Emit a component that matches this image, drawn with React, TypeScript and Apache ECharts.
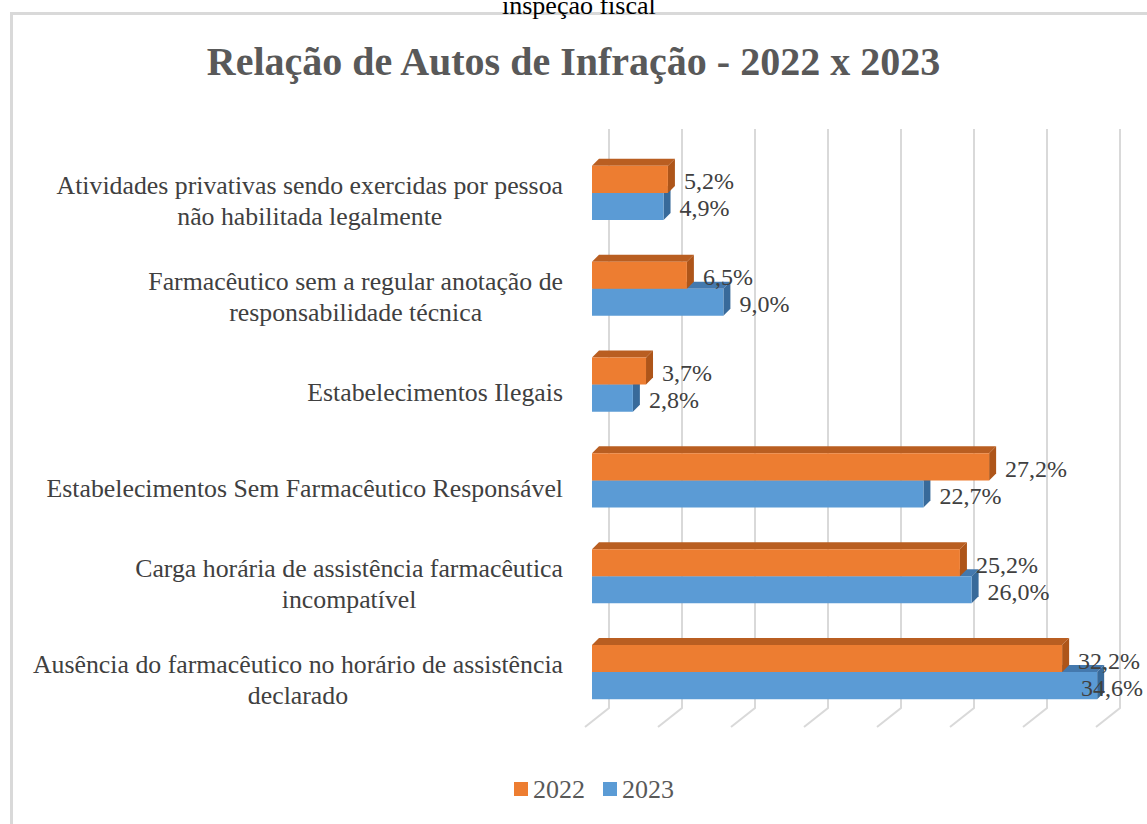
import React, { useEffect, useRef } from "react";
import * as echarts from "echarts";

const categories = [
  "Atividades privativas sendo exercidas por pessoa\nnão habilitada legalmente",
  "Farmacêutico sem a regular anotação de\nresponsabilidade técnica",
  "Estabelecimentos Ilegais",
  "Estabelecimentos Sem Farmacêutico Responsável",
  "Carga horária de assistência farmacêutica\nincompatível",
  "Ausência do farmacêutico no horário de assistência\ndeclarado",
];
const values2022 = [5.2, 6.5, 3.7, 27.2, 25.2, 32.2];
const values2023 = [4.9, 9.0, 2.8, 22.7, 26.0, 34.6];
const xTicks = [0, 5, 10, 15, 20, 25, 30, 35];

const SERIF = "Liberation Serif";

const COLORS = {
  "2022": { front: "#ED7D31", top: "#B95E21", side: "#AE5519" },
  "2023": { front: "#5B9BD5", top: "#4479AE", side: "#386A9A" },
};

const fmt = (v: number) => v.toFixed(1).replace(".", ",") + "%";

function makeBarRender(upper: boolean, col: { front: string; top: string; side: string }, zBase: number) {
  return (params: any, api: any) => {
    const cat = api.value(0);
    const val = api.value(1);
    const start = api.coord([0, cat]);
    const end = api.coord([val, cat]);
    const band = api.size([0, 1])[1];
    const h = band * 0.283;
    const d = 7;
    const x0 = start[0];
    const x1 = end[0];
    const y0 = upper ? start[1] - h : start[1];
    let tx = x1 + d + 9;
    tx = Math.min(tx, api.getWidth() - 66);
    return {
      type: "group",
      children: [
        {
          type: "polygon",
          z2: zBase,
          shape: { points: [[x0, y0], [x0 + d, y0 - d], [x1 + d, y0 - d], [x1, y0]] },
          style: { fill: col.top },
        },
        {
          type: "polygon",
          z2: zBase,
          shape: { points: [[x1, y0], [x1 + d, y0 - d], [x1 + d, y0 + h - d], [x1, y0 + h]] },
          style: { fill: col.side },
        },
        {
          type: "rect",
          z2: zBase + 1,
          shape: { x: x0, y: y0, width: x1 - x0, height: h },
          style: { fill: col.front },
        },
        {
          type: "text",
          z2: 100,
          x: tx,
          y: y0 + h / 2 + 2,
          style: {
            text: fmt(val),
            fontSize: 24,
            fontFamily: SERIF,
            fill: "#404040",
            align: "left",
            verticalAlign: "middle",
          },
        },
      ],
    };
  };
}

function gridRender(params: any, api: any) {
  const v = api.value(0);
  const p = api.coord([v, 0]);
  const cs = params.coordSys;
  const bx = p[0] + 17;
  const top = cs.y - 16;
  const bottom = cs.y + cs.height - 12;
  const fy = cs.y + cs.height + 7;
  return {
    type: "polyline",
    shape: { points: [[bx, top], [bx, bottom], [p[0] - 7, fy]] },
    style: { stroke: "#D9D9D9", lineWidth: 2, fill: "none" },
  };
}

export default function App() {
  const ref = useRef<HTMLDivElement>(null);
  useEffect(() => {
    if (!ref.current) return;
    const chart = echarts.init(ref.current, null, { renderer: "svg" });
    const option: any = {
      animation: false,
      backgroundColor: "#ffffff",
      textStyle: { fontFamily: SERIF },
      title: [
        {
          text: "Relação de Autos de Infração - 2022 x 2023",
          left: "center",
          top: 36,
          textStyle: { fontFamily: SERIF, fontSize: 40, fontWeight: "bold", color: "#595959" },
        },
        {
          text: "inspeção fiscal",
          left: 497,
          top: -13,
          textStyle: { fontFamily: SERIF, fontSize: 26, fontWeight: "normal", color: "#000000" },
        },
      ],
      graphic: [
        {
          type: "rect",
          left: 9,
          top: 11,
          shape: { width: 1300, height: 1000 },
          style: { fill: "none", stroke: "#D9D9D9", lineWidth: 3 },
          silent: true,
        },
      ],
      legend: {
        bottom: 17,
        left: 509,
        icon: "rect",
        itemWidth: 14,
        itemHeight: 14,
        itemGap: 18,
        data: ["2022", "2023"],
        textStyle: { fontFamily: SERIF, fontSize: 26, color: "#595959" },
      },
      grid: { left: 592, top: 145, width: 511, height: 575 },
      xAxis: {
        type: "value",
        min: 0,
        max: 35,
        interval: 5,
        axisLabel: { show: false },
        axisLine: { show: false },
        axisTick: { show: false },
        splitLine: { show: false },
      },
      yAxis: {
        type: "category",
        inverse: true,
        data: categories,
        axisLine: { show: false },
        axisTick: { show: false },
        axisLabel: {
          margin: 29,
          padding: [16, 0, 0, 0],
          fontFamily: SERIF,
          fontSize: 26,
          formatter: (v: string) => v.split("\n").map((l) => `{c|${l}}`).join("\n"),
          rich: {
            c: { align: "center", fontFamily: SERIF, fontSize: 25.8, color: "#404040", lineHeight: 31 },
          },
        },
      },
      series: [
        {
          type: "custom",
          name: "grid",
          silent: true,
          z: 1,
          renderItem: gridRender,
          data: xTicks.map((t) => [t]),
          encode: { x: 0 },
        },
        {
          type: "custom",
          name: "2023",
          z: 2,
          itemStyle: { color: COLORS["2023"].front },
          renderItem: makeBarRender(false, COLORS["2023"], 5),
          data: values2023.map((v, i) => [i, v]),
          encode: { y: 0, x: 1 },
        },
        {
          type: "custom",
          name: "2022",
          z: 3,
          itemStyle: { color: COLORS["2022"].front },
          renderItem: makeBarRender(true, COLORS["2022"], 10),
          data: values2022.map((v, i) => [i, v]),
          encode: { y: 0, x: 1 },
        },
      ],
    };
    chart.setOption(option);
    return () => chart.dispose();
  }, []);
  return (
    <div
      ref={ref}
      style={{ position: "fixed", left: 0, top: 0, width: 1147, height: 824 }}
    />
  );
}
